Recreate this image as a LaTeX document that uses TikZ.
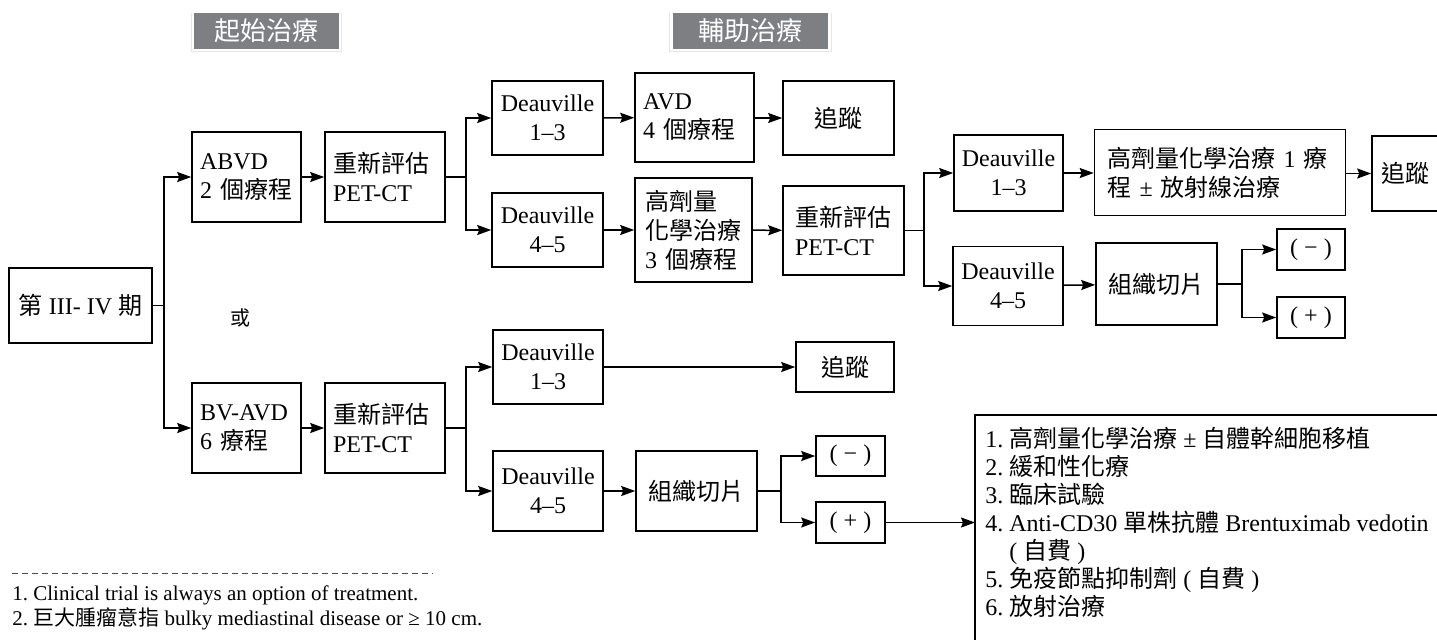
\documentclass[tikz,border=0pt]{standalone}
\usepackage{fontspec}
\setmainfont{Liberation Serif}
\newfontfamily\cjk{Noto Sans CJK TC}
\usetikzlibrary{arrows.meta,shadows}
\def\<#1>{{\cjk #1}}
\definecolor{headgray}{HTML}{7E7F83}
\newcommand\bxfont{\fontsize{12}{14.5}\selectfont}
\tikzset{
    box/.style 2 args={draw, line width=0.8pt, inner sep=0pt, minimum width=#1, minimum height=#2, align=center, font=\bxfont},
    lbox/.style 2 args={draw, line width=0.8pt, inner ysep=0pt, inner xsep=4pt, text width=#1, minimum height=#2, align=left, font=\bxfont},
    head/.style={fill=headgray, draw=white, line width=1.2pt, text=white, minimum height=19pt, inner sep=0pt,
        font=\cjk\fontsize{13}{15}\selectfont, drop shadow={shadow xshift=0pt, shadow yshift=-0.8pt, shadow scale=1.03, fill=black!20, opacity=0.5}},
    link/.style={->, line width=0.75pt},
}
\begin{document}
\begin{tikzpicture}[
            x=0.5pt, y=-0.5pt, >={Stealth[length=7pt, width=5pt, inset=1pt]},
        ]
            \useasboundingbox (0, 0) rectangle (1437, 639);
            \node[head, minimum width=73.5pt] (hstart) at (266.5, 31) {起始治療};
            \node[head, minimum width=79pt] (hadj) at (750.5, 31) {輔助治療};

            \node[box={71.5pt}{37.5pt}] (stage) at (80.5, 305.5) {\<第> III- IV \<期>};
            \node[font=\cjk\fontsize{10}{12}\selectfont] (or) at (240, 318) {或};

            \node[lbox={46.5pt}{45pt}] (abvd) at (246.5, 177) {ABVD\\2 \<個療程>};
            \node[lbox={52pt}{45pt}] (reval1) at (385, 177) {\<重新評估>\\PET-CT};
            \node[box={55.5pt}{37pt}] (dA13) at (547.5, 118) {Deauville\\1--3};
            \node[lbox={51.5pt}{44.5pt}] (avd) at (694.5, 117.5) {AVD\\4 \<個療程>};
            \node[box={55.5pt}{37pt}] (fu1) at (838.5, 118) {\<追蹤>};
            \node[box={55.5pt}{37pt}] (dA45) at (547.5, 230) {Deauville\\4--5};
            \node[lbox={48.5pt}{52pt}, inner xsep=5pt] (hdc3) at (693.5, 230) {\<高劑量>\\\<化學治療>\\3 \<個療程>};
            \node[lbox={48.5pt}{44.5pt}, inner xsep=6pt] (reval2) at (843.5, 230.5) {\<重新評估>\\PET-CT};

            \node[box={54.5pt}{38pt}] (dB13) at (1008.5, 173) {Deauville\\1--3};
            \node[lbox={112.5pt}{43pt}, inner xsep=6.5pt] (hdc1) at (1220, 172.5) {\<高劑量化學治療> 1 \<療>\\\<程> ± \<放射線治療>};
            \node[box={33pt}{37.5pt}] (fu3) at (1405, 173.5) {\<追蹤>};
            \node[box={55pt}{39.5pt}] (dB45) at (1008, 286) {Deauville\\4--5};
            \node[box={60.5pt}{41pt}] (bx2) at (1156.5, 284) {\<組織切片>};
            \node[box={34pt}{20.5pt}] (neg2) at (1311, 249.5) {( − )};
            \node[box={34pt}{20.5pt}] (pos2) at (1311, 317.5) {( + )};

            \node[lbox={46.5pt}{45pt}] (bvavd) at (246.5, 428) {BV-AVD\\6 \<療程>};
            \node[lbox={52pt}{45pt}] (reval3) at (385, 428) {\<重新評估>\\PET-CT};
            \node[box={55pt}{37pt}] (dC13) at (548, 367) {Deauville\\1--3};
            \node[box={49pt}{25pt}] (fu2) at (845, 367) {\<追蹤>};
            \node[box={55pt}{40pt}] (dC45) at (548, 491) {Deauville\\4--5};
            \node[box={60.5pt}{40pt}] (bx1) at (696.5, 491) {\<組織切片>};
            \node[box={34.5pt}{20pt}] (neg1) at (850.5, 456) {( − )};
            \node[box={34.5pt}{20.5pt}] (pos1) at (850.5, 522.5) {( + )};

            \node[anchor=north west, align=left, inner xsep=5pt, inner ysep=6pt, font=\fontsize{12}{14}\selectfont] (opts) at (975, 415) {%
                1.\ \<高劑量化學治療> ± \<自體幹細胞移植>\\
                2.\ \<緩和性化療>\\
                3.\ \<臨床試驗>\\
                4.\ Anti-CD30 \<單株抗體> Brentuximab vedotin\\
                \phantom{4.\ }( \<自費> )\\
                5.\ \<免疫節點抑制劑> ( \<自費> )\\
                6.\ \<放射治療>};
            \draw[line width=0.8pt] (opts.north west) rectangle ++(600, 300);

            \draw[dash pattern=on 3pt off 2pt, line width=0.5pt, black!70] (12, 573) -- (433, 573);
            \node[anchor=base west, inner sep=0pt, font=\fontsize{10.5}{12}\selectfont] (note1) at (12, 600) {1.\ Clinical trial is always an option of treatment.};
            \node[anchor=base west, inner sep=0pt, font=\fontsize{10.5}{12}\selectfont] (note2) at (12, 625) {2.\ \<巨大腫瘤意指> bulky mediastinal disease or ≥ 10 cm.};

            \draw[line width=0.75pt] (stage.east) -- ++(11, 0) coordinate (j0);
            \draw[link] (j0) |- (abvd);
            \draw[link] (j0) |- (bvavd);
            \draw[link] (abvd) -- (reval1);
            \draw[line width=0.75pt] (reval1.east) -- ++(20, 0) coordinate (j1);
            \draw[link] (j1) |- (dA13);
            \draw[link] (j1) |- (dA45);
            \draw[link] (dA13) -- (avd);
            \draw[link] (avd.east |- fu1) -- (fu1);
            \draw[link] (dA45) -- (hdc3);
            \draw[link] (hdc3) -- (reval2);
            \draw[line width=0.75pt] (reval2.east) -- ++(19, 0) coordinate (j2);
            \draw[link] (j2) |- (dB13);
            \draw[link] (j2) |- (dB45);
            \draw[link] (dB13) -- (hdc1.west |- dB13);
            \draw[link] (hdc1.east |- fu3) -- (fu3);
            \draw[link] (dB45) -- (bx2);
            \draw[line width=0.75pt] (bx2.east) -- ++(24, 0) coordinate (j3);
            \draw[link] (j3) |- (neg2);
            \draw[link] (j3) |- (pos2);
            \draw[link] (bvavd) -- (reval3);
            \draw[line width=0.75pt] (reval3.east) -- ++(20, 0) coordinate (j4);
            \draw[link] (j4) |- (dC13);
            \draw[link] (j4) |- (dC45);
            \draw[link] (dC13) -- (fu2);
            \draw[link] (dC45) -- (bx1);
            \draw[line width=0.75pt] (bx1.east) -- ++(23, 0) coordinate (j5);
            \draw[link] (j5) |- (neg1);
            \draw[link] (j5) |- (pos1);
            \draw[link] (pos1) -- (pos1 -| opts.west);
        \end{tikzpicture}
\end{document}
